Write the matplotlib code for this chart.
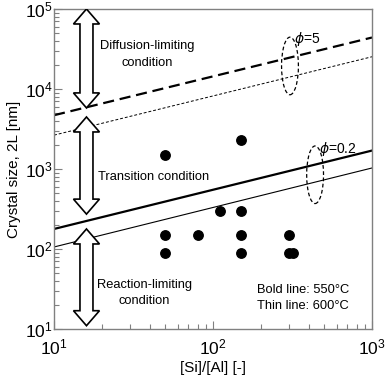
import numpy as np
import matplotlib
matplotlib.use("Agg")
import matplotlib.pyplot as plt
from matplotlib.patches import Polygon, Ellipse

plt.rcParams['font.family'] = ['Liberation Sans', 'DejaVu Sans']
plt.rcParams['mathtext.fontset'] = 'custom'
plt.rcParams['mathtext.rm'] = 'Liberation Sans'
plt.rcParams['mathtext.it'] = 'Liberation Sans:italic'

# measured crystal sizes
si_al = [50, 50, 50, 80, 110, 150, 150, 150, 150, 300, 300, 320]
size_nm = [1500, 150, 90, 150, 300, 2300, 300, 150, 90, 150, 90, 90]

# model lines (values read at Si/Al = 10 and 1000)
line_x = [10, 1000]
phi5_550 = [4700, 44000]
phi5_600 = [2650, 25300]
phi02_550 = [178, 1700]
phi02_600 = [106, 1030]

# double arrows: (bottom, top) in nm
arrow_x = 16
arrow_spans = [(5800, 1e5), (273, 4470), (11, 178)]

fig = plt.figure(figsize=(3.85, 3.84), dpi=100)
ax = fig.add_axes([0.1403, 0.1432, 0.826, 0.8334])
ax.set_xscale('log')
ax.set_yscale('log')
ax.set_xlim(10, 1000)
ax.set_ylim(10, 1e5)

ax.plot(line_x, phi5_550, color='black', lw=1.6, dashes=(5, 2.6))
ax.plot(line_x, phi5_600, color='black', lw=0.7, dashes=(3, 2))
ax.plot(line_x, phi02_550, color='black', lw=1.6)
ax.plot(line_x, phi02_600, color='black', lw=0.8)
ax.plot(si_al, size_nm, 'o', color='black', ms=6.8, ls='none')


def double_arrow(x, y0, y1, shaft=13, head_w=26, head_l=15):
    cx, b = ax.transData.transform((x, y0))
    _, t = ax.transData.transform((x, y1))
    hw, sw = head_w / 2, shaft / 2
    pts = [(cx, b), (cx + hw, b + head_l), (cx + sw, b + head_l),
           (cx + sw, t - head_l), (cx + hw, t - head_l), (cx, t),
           (cx - hw, t - head_l), (cx - sw, t - head_l),
           (cx - sw, b + head_l), (cx - hw, b + head_l)]
    data_pts = ax.transData.inverted().transform(pts)
    ax.add_patch(Polygon(data_pts, closed=True, facecolor='white',
                         edgecolor='black', lw=1.2, zorder=3))


for lo, hi in arrow_spans:
    double_arrow(arrow_x, lo, hi)

ax.text(38.5, 27000, 'Diffusion-limiting\ncondition', ha='center', va='center',
        fontsize=9.3, linespacing=1.45)
ax.text(42, 800, 'Transition condition', ha='center', va='center', fontsize=9.3)
ax.text(37, 28.5, 'Reaction-limiting\ncondition', ha='center', va='center',
        fontsize=9.3, linespacing=1.45)
ax.text(0.637, 0.096, 'Bold line: 550\u00b0C\nThin line: 600\u00b0C',
        transform=ax.transAxes, ha='left', va='center', fontsize=9.3,
        linespacing=1.45)

ax.add_patch(Ellipse((0.742, 0.822), 0.053, 0.18, transform=ax.transAxes,
                     fill=False, ls=(0, (3, 2)), lw=0.9, color='black'))
ax.add_patch(Ellipse((0.821, 0.482), 0.053, 0.18, transform=ax.transAxes,
                     fill=False, ls=(0, (3, 2)), lw=0.9, color='black'))
ax.text(0.755, 0.905, r'$\phi$=5', transform=ax.transAxes, fontsize=10,
        ha='left', va='center', math_fontfamily='dejavusans')
ax.text(0.832, 0.563, r'$\phi$=0.2', transform=ax.transAxes, fontsize=10,
        ha='left', va='center', math_fontfamily='dejavusans')

for sp in ax.spines.values():
    sp.set_color('#808080')
    sp.set_linewidth(1.0)
ax.tick_params(which='both', direction='in', color='#808080',
               top=False, right=False, labelsize=12.5)
ax.tick_params(which='major', length=6, width=0.8)
ax.tick_params(which='minor', length=3.5, width=0.8)
ax.tick_params(axis='x', pad=6)
ax.tick_params(axis='y', pad=1)

ax.set_xlabel('[Si]/[Al] [-]', fontsize=11, labelpad=3)
ax.set_ylabel('Crystal size, 2L [nm]', fontsize=11, labelpad=3)

fig.savefig('out.png', dpi=100)
